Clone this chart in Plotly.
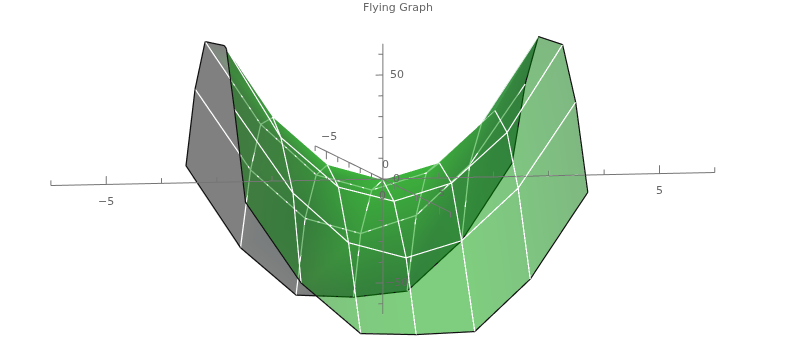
import plotly.graph_objects as go

TITLE = "Flying Graph"

# Surface sheets: one list per mesh row, seven columns each.
# Sheet A is the rear sheet (grey side), sheet B the front sheet (green side).
# Both start from the same crease (row 0).
CREASE_X = [-2.865, -1.989, -1.004, 0.0, 1.022, 2.026, 2.810]
CREASE_Z = [65.6, 30.7, 7.3, -0.5, 7.2, 31.9, 67.0]

A1_X = [-3.212, -2.208, -1.204, -0.201, 0.785, 1.788, 2.810]
A1_Z = [67.7, 27.4, 2.6, -5.2, 2.5, 26.2, 67.0]
A2_X = [-3.394, -2.391, -1.405, -0.401, 0.602, 1.569, 2.573]
A2_Z = [45.0, 5.6, -18.2, -26.0, -17.8, 6.0, 44.3]
A3_X = [-3.558, -2.573, -1.569, -0.529, 0.438, 1.423, 2.336]
A3_Z = [8.2, -31.7, -55.0, -56.5, -54.1, -30.4, 6.5]

B1_X = [-2.828, -1.843, -0.803, 0.201, 1.241, 2.245, 3.248]
B1_Z = [64.1, 20.9, -3.5, -10.8, -2.6, 21.2, 62.9]
B2_X = [-2.683, -1.624, -0.620, 0.420, 1.423, 2.445, 3.485]
B2_Z = [34.9, -5.9, -30.3, -38.1, -30.4, -5.7, 35.1]
B3_X = [-2.482, -1.478, -0.401, 0.602, 1.661, 2.664, 3.704]
B3_Z = [-9.9, -49.2, -74.1, -75.1, -74.2, -49.5, -8.3]

# Axis ticks and labels
X_TICKS = list(range(-6, 7))
Y_TICKS = list(range(-6, 7))
Z_TICKS = list(range(-60, 70, 10))
X_LABELS = [-5, 0, 5]
Y_LABELS = [-5, 0, 5]
Z_LABELS = [-50, 0, 50]

# Depth layers along the view direction (plot y)
DEPTH_LINES = 0.0
DEPTH_B = 0.06
DEPTH_A_LINES = 0.10
DEPTH_A = 0.14
# A small step along the view direction must not move a layer on the screen
SLIDE_X = 0.2044
SLIDE_Z = -2.67

G = (128, 128, 128)
A_COLORS = [
    [G, (120, 190, 120), (120, 205, 120), (120, 205, 120), (120, 205, 120), (115, 185, 120), (105, 150, 120)],
    [G, G, (115, 145, 120), (120, 190, 120), (120, 190, 120), (115, 160, 120), (105, 140, 120)],
    [G, G, (108, 120, 120), (115, 155, 120), (115, 150, 120), (108, 130, 120), (100, 125, 115)],
    [G, G, G, (105, 105, 120), (100, 100, 120), (100, 120, 115), (100, 125, 115)],
]
B_COLUMN_COLORS = [(0, 120, 0), (0, 125, 0), (0, 150, 0), (0, 157, 0), (0, 157, 0), (0, 140, 5), (0, 115, 5)]
SLIVER_COLOR = (62, 150, 72)

AXIS_COLOR = "#757575"
TEXT_COLOR = "#666666"
FONT = "DejaVu Sans"


def rgb(c):
    return "rgb(%d,%d,%d)" % c


FLAT = dict(ambient=1.0, diffuse=0.0, specular=0.0, fresnel=0.0, roughness=1.0)


def slid(values, slide, depth):
    return [None if v is None else v + slide * depth for v in values]


def mesh(rows_x, rows_z, depth, colors, opacity):
    nr, nc = len(rows_x), len(rows_x[0])
    xs = slid([v for r in rows_x for v in r], SLIDE_X, depth)
    zs = slid([v for r in rows_z for v in r], SLIDE_Z, depth)
    ys = [depth] * len(xs)
    i, j, k = [], [], []
    for r in range(nr - 1):
        for c in range(nc - 1):
            a = r * nc + c
            b = a + 1
            d = a + nc
            e = d + 1
            i += [a, b]
            j += [b, e]
            k += [d, d]
    return go.Mesh3d(
        x=xs, y=ys, z=zs, i=i, j=j, k=k,
        vertexcolor=[rgb(colors[r][c]) for r in range(nr) for c in range(nc)],
        opacity=opacity, flatshading=True, hoverinfo="skip", showscale=False,
        lighting=FLAT,
    )


def lines(xs, ys, zs, color, width):
    return go.Scatter3d(x=xs, y=ys, z=zs, mode="lines", hoverinfo="skip", showlegend=False,
                        connectgaps=False, line=dict(color=color, width=width))


def grid_lines(rows_x, rows_z, depth):
    xs, zs = [], []
    for rx, rz in zip(rows_x[1:3], rows_z[1:3]):
        xs += rx + [None]
        zs += rz + [None]
    for c in range(1, 6):
        xs += [r[c] for r in rows_x] + [None]
        zs += [r[c] for r in rows_z] + [None]
    return lines(slid(xs, SLIDE_X, depth), [depth if v is not None else None for v in xs],
                 slid(zs, SLIDE_Z, depth), "white", 2.5)


def edge_lines(rows_x, rows_z, depth):
    xs = [r[0] for r in rows_x] + rows_x[3] + [r[6] for r in rows_x[::-1]]
    zs = [r[0] for r in rows_z] + rows_z[3] + [r[6] for r in rows_z[::-1]]
    return lines(slid(xs, SLIDE_X, depth), [depth] * len(xs), slid(zs, SLIDE_Z, depth), "#101010", 2.5)


A_X = [CREASE_X, A1_X, A2_X, A3_X]
A_Z = [CREASE_Z, A1_Z, A2_Z, A3_Z]
B_X = [CREASE_X, B1_X, B2_X, B3_X]
B_Z = [CREASE_Z, B1_Z, B2_Z, B3_Z]

fig = go.Figure()
fig.add_trace(mesh(A_X, A_Z, DEPTH_A, A_COLORS, 1.0))
# The narrow strip of sheet A that stands clear of the crease near the right top corner
fig.add_trace(go.Mesh3d(
    x=slid([A1_X[5], CREASE_X[5], CREASE_X[6]], SLIDE_X, DEPTH_A_LINES),
    y=[DEPTH_A_LINES] * 3,
    z=slid([A1_Z[5], CREASE_Z[5], CREASE_Z[6]], SLIDE_Z, DEPTH_A_LINES),
    i=[0], j=[1], k=[2], color=rgb(SLIVER_COLOR), flatshading=True, hoverinfo="skip", lighting=FLAT,
))
fig.add_trace(grid_lines(A_X, A_Z, DEPTH_A_LINES))
fig.add_trace(edge_lines(A_X, A_Z, DEPTH_A_LINES))
fig.add_trace(mesh(B_X, B_Z, DEPTH_B, [B_COLUMN_COLORS] * 4, 0.5))
fig.add_trace(grid_lines(B_X, B_Z, DEPTH_LINES))
fig.add_trace(edge_lines(B_X, B_Z, DEPTH_LINES))

# Axes (plot y is the negated y value so that +y comes toward the viewer)
ax_x, ax_y, ax_z = [], [], []
ax_x += [X_TICKS[0], X_TICKS[-1], None]; ax_y += [0, 0, None]; ax_z += [0, 0, None]
ax_x += [0, 0, None]; ax_y += [-Y_TICKS[0], -Y_TICKS[-1], None]; ax_z += [0, 0, None]
ax_x += [0, 0, None]; ax_y += [0, 0, None]; ax_z += [-65, 65, None]
for t in X_TICKS:
    h = 4.0 if t % 5 == 0 else 2.5
    ax_x += [t, t, None]; ax_y += [0, 0, None]; ax_z += [0, h, None]
for t in Y_TICKS:
    h = 3.8 if t % 5 == 0 else 2.5
    ax_x += [0, 0, None]; ax_y += [-t, -t, None]; ax_z += [0, -h, None]
for t in Z_TICKS:
    h = 0.13 if t % 50 == 0 else 0.08
    ax_x += [0, -h, None]; ax_y += [0, 0, None]; ax_z += [t, t, None]
fig.add_trace(lines(ax_x, ax_y, ax_z, AXIS_COLOR, 2))


def label(x, y, z, v):
    return dict(x=x, y=y, z=z, text=str(v).replace("-", "\u2212"), showarrow=False,
                font=dict(family=FONT, size=11, color=TEXT_COLOR))


annotations = []
for v in X_LABELS:
    annotations.append(label(v, 0, -8.0, v))
for v in Y_LABELS:
    annotations.append(label(0.04, -v, 7.0, v))
for v in Z_LABELS:
    annotations.append(label(0.25, 0, v, v))

EYE = 3.0
SCALE = 4.34
fig.update_layout(
    width=800, height=364, margin=dict(l=0, r=0, t=0, b=0),
    paper_bgcolor="white", showlegend=False,
    title=dict(text=TITLE, x=0.4975, xanchor="center", y=0.98, yanchor="middle",
               font=dict(family=FONT, size=11, color=TEXT_COLOR)),
    scene=dict(
        domain=dict(x=[0, 1], y=[0, 1]),
        xaxis=dict(visible=False, range=[-6.69, 7.31]),
        yaxis=dict(visible=False, range=[-7, 7]),
        zaxis=dict(visible=False, range=[-76.6, 73.4]),
        aspectmode="manual",
        aspectratio=dict(x=1 * SCALE, y=1.02 * SCALE, z=0.397 * SCALE),
        camera=dict(
            projection=dict(type="orthographic"),
            up=dict(x=0, y=0, z=1),
            center=dict(x=0, y=0, z=0),
            eye=dict(x=-0.195 * EYE, y=-0.975 * EYE, z=0.098 * EYE),
        ),
        annotations=annotations,
    ),
)
fig.write_html("out.html", config=dict(displayModeBar=False),
               post_script="document.body.style.margin='0';")
